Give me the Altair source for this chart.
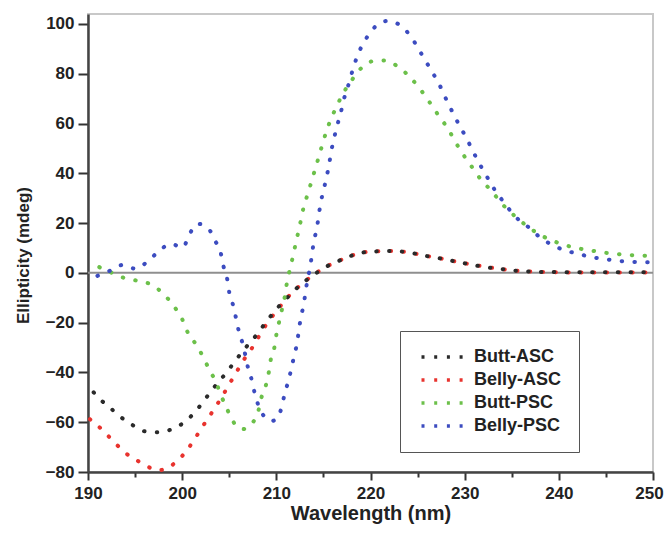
import altair as alt
import pandas as pd

series_names = ["Butt-ASC", "Belly-ASC", "Butt-PSC", "Belly-PSC"]
series_colors = ["#2a2a2a", "#e8332e", "#6cc04a", "#3c4cc0"]

butt_asc_wl = [190.6, 191.2, 192.2, 193.4, 194.8, 196.1, 197.5, 198.9, 200.2, 201.5, 202.6, 203.6, 204.8, 205.7,
               206.8, 207.9, 208.9, 210.0, 211.2, 212.5, 213.9, 215.2, 216.5, 217.9, 219.2, 220.5, 221.9, 223.2,
               224.5, 225.9, 227.3, 228.6, 229.9, 231.3, 232.6, 234.0, 235.3, 236.7, 238.0, 240, 242, 244, 246,
               248, 250]
butt_asc_val = [-48, -50.5, -53.7, -57.7, -61.3, -63.7, -64, -62.8, -60.1, -55.3, -49.9, -45, -39.6, -35,
                -29.8, -24.9, -19.8, -14.6, -9.8, -5.0, -1.0, 2.3, 4.6, 6.8, 8.2, 8.6, 8.8, 8.6,
                7.9, 6.8, 5.9, 4.9, 3.9, 2.9, 2.1, 1.5, 0.9, 0.6, 0.4, 0.3, 0.2, 0.2, 0.2,
                0.2, 0.2]

belly_asc_wl = [190.2, 191.5, 192.7, 194.0, 195.4, 196.8, 197.5, 198.1, 199.4, 200.6, 201.5, 202.4, 203.3, 204.2,
                204.9, 205.7, 206.5, 207.4, 208.2, 209.1, 210.1, 211.2, 212.5, 213.9, 215.2, 216.5, 217.9, 219.2,
                220.5, 221.9, 223.2, 224.5, 225.9, 227.3, 228.6, 229.8, 231.3, 232.6, 233.9, 235.3, 236.7, 238,
                240, 242, 244, 246, 248, 250]
belly_asc_val = [-58.8, -63, -67.7, -72.4, -75.8, -78.6, -79.3, -78.9, -75.8, -70.8, -65.7, -60.4, -55.3, -49.9,
                 -45.4, -40.3, -35.2, -30.3, -25.2, -19.8, -14.9, -9.8, -5.1, -0.9, 2.3, 4.6, 6.8, 8.2,
                 8.6, 8.8, 8.6, 7.9, 6.8, 5.9, 4.9, 4.0, 3.0, 2.2, 1.5, 0.9, 0.6, 0.4,
                 0.2, 0.1, 0.1, 0.1, 0.1, 0.1]

butt_psc_wl = [191.2, 192.5, 193.9, 195.3, 196.6, 198.0, 199.1, 200.0, 200.6, 201.5, 202.2, 202.9, 203.6, 204.1,
               204.7, 205.3, 206.4, 207.5, 208.1, 208.4, 208.9, 209.2, 209.4, 209.8, 210.0, 210.3, 210.6, 210.9,
               211.1, 211.4, 211.7, 212.0, 212.3, 212.6, 212.9, 213.3, 213.7, 214.1, 214.5, 214.9, 215.3, 215.8,
               216.4, 217.0, 217.9, 218.9, 220.3, 221.6, 222.9, 224.3, 225.4, 226.3, 227.3, 228.2, 229.0, 229.8,
               230.8, 231.7, 232.9, 234.0, 235.3, 236.7, 238.0, 239.3, 240.6, 242.0, 243.4, 244.7, 246.1, 247.4,
               248.8, 250]
butt_psc_val = [2.3, 0.1, -2.1, -3.2, -4.5, -8.4, -13.3, -18.6, -24, -28.9, -33.6, -39, -44, -49,
                -54.1, -59, -62.8, -60.1, -55.3, -50.3, -45, -39.9, -35, -29.8, -24.9, -19.6, -14.6, -9.5,
                -4.5, 0.8, 5.6, 10.8, 15.9, 21, 26.4, 31.3, 36.3, 41.4, 46.5, 51.7, 56.7, 61.8,
                66.8, 71.5, 76.8, 81.8, 85.1, 85.3, 82.9, 78.2, 73.2, 68.4, 62.8, 58.1, 52.7, 47.8,
                42.4, 37.6, 32.7, 27.6, 22.9, 18.6, 15.3, 13, 11.2, 9.9, 9, 8.2, 7.6, 7.2,
                6.9, 6.8]

belly_psc_wl = [191.0, 192.3, 193.7, 195.0, 196.4, 197.6, 198.8, 200.1, 200.7, 201.7, 202.8, 203.5, 204.1, 204.4,
                204.8, 205.0, 205.4, 205.7, 206.0, 206.4, 206.7, 207.0, 207.4, 207.7, 208.1, 208.9, 209.5, 210.1,
                210.6, 210.9, 211.3, 211.6, 211.9, 212.2, 212.4, 212.6, 212.9, 213.1, 213.3, 213.6, 213.8, 214.0,
                214.3, 214.5, 214.7, 215.0, 215.3, 215.6, 215.8, 216.1, 216.4, 216.8, 217.1, 217.5, 217.9, 218.3,
                218.8, 219.5, 220.5, 221.8, 223.1, 224.4, 225.2, 226.0, 226.8, 227.5, 228.1, 228.8, 229.5, 230.2,
                230.9, 231.6, 232.4, 233.2, 234.2, 235.3, 236.7, 238.0, 239.3, 240.7, 242.1, 243.5, 244.8, 246.1,
                247.5, 248.8, 250]
belly_psc_val = [-1.2, 0.8, 3.2, 1.7, 4.8, 9, 11.6, 10.2, 15, 19.7, 17.7, 12.9, 7.9, 2.5,
                 -2.8, -7.8, -12.9, -17.9, -23.2, -28.2, -32.9, -38.3, -43.2, -48.3, -53.3, -58.4, -59.5, -58.4,
                 -53.4, -48.3, -43.2, -38.3, -33.2, -28.2, -22.9, -17.9, -12.9, -7.8, -2.8, 2.5, 7.9, 12.9,
                 17.9, 23, 28, 32.9, 38, 43.4, 48.3, 53.4, 58.5, 63.5, 68.8, 73.5, 78.8, 83.9,
                 88.9, 93.9, 98.9, 101.2, 99.6, 94.3, 89.3, 84.2, 79.1, 74.2, 69.2, 63.9, 58.8, 54.1,
                 48.7, 43.7, 38.4, 33.3, 28.2, 22.9, 18.6, 14.3, 11.2, 9, 7.6, 6.3, 5.6, 4.9,
                 4.5, 4.3, 4.2]

x_ticks = list(range(190, 251, 5))
y_ticks = list(range(-80, 101, 10))

rows = []
for name, wls, vals in [
    ("Belly-ASC", belly_asc_wl, belly_asc_val),
    ("Butt-ASC", butt_asc_wl, butt_asc_val),
    ("Butt-PSC", butt_psc_wl, butt_psc_val),
    ("Belly-PSC", belly_psc_wl, belly_psc_val),
]:
    for i, (w, v) in enumerate(zip(wls, vals)):
        rows.append({"series": name, "wl": w, "val": v, "order": i})
df = pd.DataFrame(rows)

FONT = "Liberation Sans"

x_axis = alt.Axis(
    values=x_ticks,
    labelExpr="datum.value % 10 === 0 ? datum.label : ''",
    tickSize={"condition": {"test": "datum.value % 10 === 0", "value": 8}, "value": 5},
    labelOffset={"condition": {"test": "datum.value === 250", "value": -4}, "value": 0},
    tickColor="#333", tickWidth=2, domainColor="#444", domainWidth=2.5,
    labelFont=FONT, labelFontSize=17, labelFontWeight="bold", labelColor="#222",
    labelPadding=5, labelOverlap=False, labelFlush=False,
    title="Wavelength (nm)", titleFont=FONT, titleFontSize=20, titleFontWeight="bold",
    titleColor="#222", titlePadding=2, grid=False,
)
y_axis = alt.Axis(
    values=y_ticks,
    labelExpr="datum.value % 20 === 0 ? datum.label : ''",
    tickSize={"condition": {"test": "datum.value % 20 === 0", "value": 10}, "value": 5},
    tickColor="#333", tickWidth=2, domainColor="#444", domainWidth=2.5,
    labelFont=FONT, labelFontSize=17, labelFontWeight="bold", labelColor="#222",
    labelPadding=4, labelOverlap=False, labelFlush=False,
    title="Ellipticity (mdeg)", titleFont=FONT, titleFontSize=17, titleFontWeight="bold",
    titleColor="#222", titlePadding=13, titleY=241, grid=False,
)

legend = alt.Legend(
    orient="none", legendX=312, legendY=317, title=None,
    symbolType="M-4,0H4", symbolDash=[3, 9.7], symbolStrokeWidth=3.5, symbolSize=121,
    symbolOffset=17.5,
    labelFont=FONT, labelFontSize=18, labelFontWeight="bold", labelColor="#222",
    labelOffset=21.5, rowPadding=5, padding=17,
    strokeColor="#555", fillColor="white",
)

lines = alt.Chart(df).mark_line(
    strokeDash=[0.5, 12.3], strokeCap="round", strokeWidth=4, interpolate="monotone", clip=True
).encode(
    x=alt.X("wl:Q", scale=alt.Scale(domain=[190, 250], nice=False, zero=False), axis=x_axis),
    y=alt.Y("val:Q", scale=alt.Scale(domain=[-80, 104], nice=False, zero=False), axis=y_axis),
    color=alt.Color("series:N", scale=alt.Scale(domain=series_names, range=series_colors), legend=legend),
    detail="series:N",
    order="order:Q",
)

zero = alt.Chart().mark_rule(color="#8f8f8f", strokeWidth=2).encode(y=alt.datum(0))

chart = alt.layer(zero, lines).properties(
    width=565, height=458,
    autosize=alt.AutoSizeParams(type="none"),
    padding={"left": 80, "top": 6, "right": 11, "bottom": 56},
).configure_view(stroke="#c8c8c8", strokeWidth=2)

chart.save("out.html", embed_options={"renderer": "svg", "actions": False})
